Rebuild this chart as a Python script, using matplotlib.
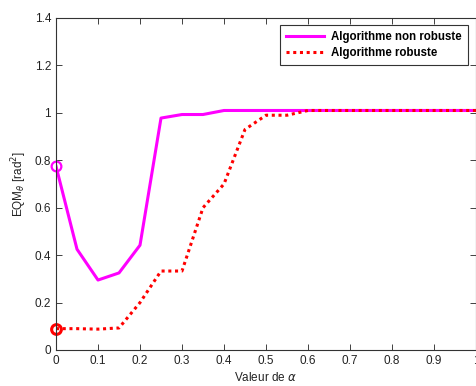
import matplotlib
matplotlib.use("Agg")
import matplotlib.pyplot as plt

alpha = [0.0, 0.05, 0.1, 0.15, 0.2, 0.25, 0.3, 0.35, 0.4, 0.45, 0.5, 0.55, 0.6,
         0.65, 0.7, 0.75, 0.8, 0.85, 0.9, 0.95, 1.0]
non_robuste = [0.775, 0.425, 0.295, 0.325, 0.442, 0.978, 0.993, 0.993, 1.01, 1.01, 1.01,
               1.01, 1.01, 1.01, 1.01, 1.01, 1.01, 1.01, 1.01, 1.01, 1.01]
robuste = [0.09, 0.09, 0.088, 0.093, 0.2, 0.333, 0.333, 0.6, 0.7, 0.93, 0.99, 0.99, 1.01,
           1.01, 1.01, 1.01, 1.01, 1.01, 1.01, 1.01, 1.01]
xticks = [0, 0.1, 0.2, 0.3, 0.4, 0.5, 0.6, 0.7, 0.8, 0.9, 1]
yticks = [0, 0.2, 0.4, 0.6, 0.8, 1, 1.2, 1.4]
ytick_labels = ["0", "0.2", "0.4", "0.6", "0.8", "1", "1.2", "1.4"]
xtick_labels = ["0", "0.1", "0.2", "0.3", "0.4", "0.5", "0.6", "0.7", "0.8", "0.9", "1"]

plt.rcParams['font.family'] = ['Liberation Sans', 'DejaVu Sans']

fig = plt.figure(figsize=(4.76, 3.86), dpi=100)
ax = fig.add_axes([56/476, 1-350/386, 1-56/476, (350-18)/386])

ax.plot(alpha, non_robuste, color='#ff00ff', lw=2.2, label='Algorithme non robuste')
ax.plot(alpha, robuste, color='#ff0000', lw=2.2, linestyle=(0, (1, 1.2)), label='Algorithme robuste')
ax.plot(alpha[0], non_robuste[0], 'o', mfc='none', mec='#ff00ff', ms=7, mew=1.6, clip_on=False)
ax.plot(alpha[0], robuste[0], 'o', mfc='none', mec='#ff0000', ms=7, mew=2.2, clip_on=False)

ax.set_xlim(0, 1)
ax.set_ylim(0, 1.4)
ax.set_xticks(xticks)
ax.set_xticklabels(xtick_labels)
ax.set_yticks(yticks)
ax.set_yticklabels(ytick_labels)
ax.tick_params(direction='in', top=True, right=True, length=4, labelsize=8.5,
               colors='#222222', width=0.6)
for s in ax.spines.values():
    s.set_linewidth(0.8)
    s.set_color('#333333')

ax.set_xlabel(r'Valeur de $\alpha$', fontsize=8.5, color='#222222', labelpad=3)
ax.set_ylabel(r'EQM$_\theta$ [rad$^2$]', fontsize=8.5, color='#222222', labelpad=4)

leg = ax.legend(loc='upper right', bbox_to_anchor=(468/476, 1-25/386),
                bbox_transform=fig.transFigure, borderaxespad=0,
                prop={'weight': 'bold', 'size': 8.3}, fancybox=False, framealpha=1,
                edgecolor='#333333', handlelength=3.3, borderpad=0.55, labelspacing=0.3,
                handletextpad=0.6)
leg.get_frame().set_linewidth(0.8)

fig.savefig('out.png', dpi=100)
